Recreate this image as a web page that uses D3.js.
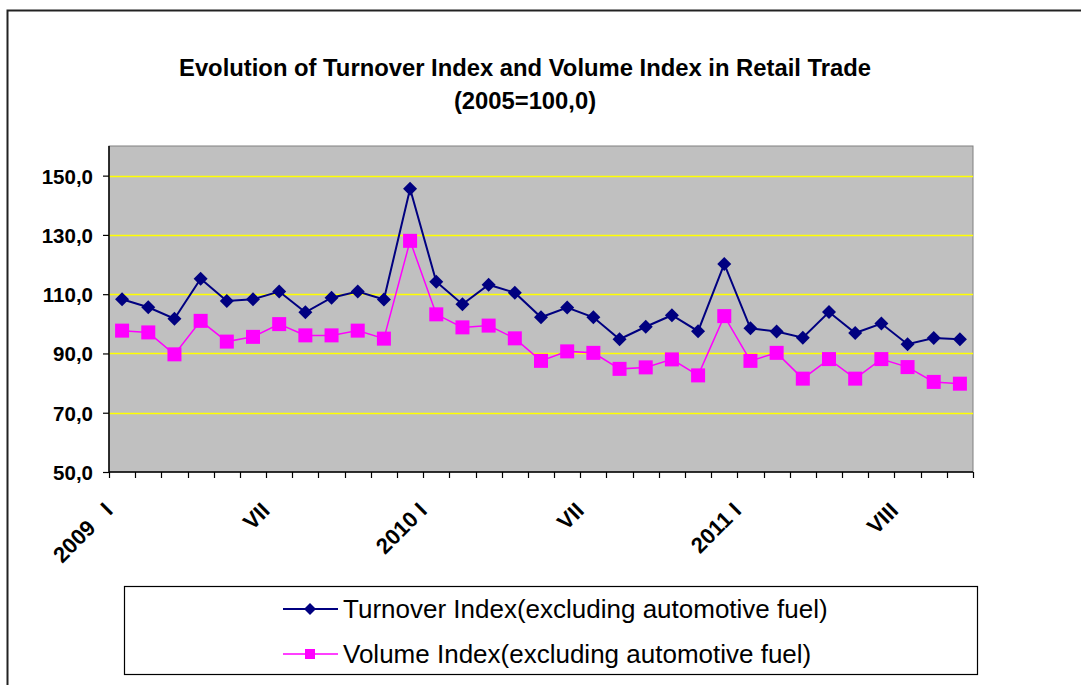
<!DOCTYPE html>
<html>
<head>
<meta charset="utf-8">
<script src="https://cdn.jsdelivr.net/npm/d3@7"></script>
<style>
  html, body { margin: 0; padding: 0; background: #fff; }
  svg { display: block; }
  text { font-family: "Liberation Sans", Arial, sans-serif; }
</style>
</head>
<body>
<svg id="chart" width="1081" height="685"></svg>
<script>
// ---- data ----
const categoryIndex = d3.range(33); // 2009 I ... 2011 IX (monthly)
const tickLabels = ["2009   I", "VII", "2010 I", "VII", "2011 I", "VIII"];
const tickLabelPositions = [0, 6, 12, 18, 24, 30];
const turnover = [108.3, 105.6, 101.7, 115.2, 107.7, 108.3, 110.9, 103.9, 108.8, 110.9, 108.2, 145.6,
                  114.2, 106.6, 113.2, 110.5, 102.2, 105.5, 102.2, 94.8, 99.0, 102.9, 97.5, 120.2,
                  98.5, 97.4, 95.3, 104.0, 96.9, 100.1, 93.1, 95.2, 94.8];
const volume   = [97.7, 97.1, 89.7, 101.0, 94.0, 95.6, 99.9, 96.1, 96.1, 97.7, 95.0, 128.0,
                  103.2, 98.8, 99.4, 95.1, 87.5, 90.7, 90.2, 84.8, 85.3, 88.0, 82.6, 102.6,
                  87.5, 90.2, 81.5, 88.1, 81.5, 88.1, 85.4, 80.4, 79.8];
const yTicks = [50, 70, 90, 110, 130, 150];
const seriesNames = ["Turnover Index(excluding automotive fuel)", "Volume Index(excluding automotive fuel)"];
const titleLines = ["Evolution of Turnover Index and Volume Index in Retail Trade", "(2005=100,0)"];

// ---- layout ----
const svg = d3.select("#chart");
const plot = { left: 109, right: 973, top: 146, bottom: 472 };

svg.append("rect").attr("width", 1081).attr("height", 685).attr("fill", "#fff");
// outer chart frame
svg.append("path").attr("d", "M7.5,685 L7.5,10.5 L1081,10.5")
  .attr("fill", "none").attr("stroke", "#222").attr("stroke-width", 2);

// title
svg.selectAll("text.title").data(titleLines).join("text")
  .attr("class", "title")
  .attr("x", 525).attr("y", (d, i) => 76 + i * 33)
  .attr("text-anchor", "middle")
  .attr("font-weight", "bold").attr("font-size", 23.8)
  .text(d => d);

const x = d3.scaleBand().domain(categoryIndex).range([plot.left, plot.right]).padding(0);
const y = d3.scaleLinear().domain([50, 160]).range([plot.bottom, plot.top]);
const cx = i => x(i) + x.bandwidth() / 2;

// plot background
svg.append("rect")
  .attr("x", plot.left).attr("y", plot.top)
  .attr("width", plot.right - plot.left).attr("height", plot.bottom - plot.top)
  .attr("fill", "#C0C0C0").attr("stroke", "#808080").attr("stroke-width", 1);

// gridlines
svg.append("g").selectAll("line").data(yTicks.filter(v => v > 50)).join("line")
  .attr("x1", plot.left).attr("x2", plot.right)
  .attr("y1", d => Math.round(y(d)) + 0.5).attr("y2", d => Math.round(y(d)) + 0.5)
  .attr("stroke", "#FFFF00").attr("stroke-width", 1.5);

// y axis
const yAxis = d3.axisLeft(y).tickValues(yTicks).tickSize(6).tickPadding(10)
  .tickFormat(d => d3.format(".1f")(d).replace(".", ","));
const gy = svg.append("g").attr("transform", `translate(${plot.left},0)`).call(yAxis);
gy.select(".domain").attr("stroke", "#000").attr("stroke-width", 1.5)
  .attr("d", `M-0,${plot.top}V${plot.bottom}`);
gy.selectAll(".tick line").attr("stroke", "#000").attr("stroke-width", 1.2);
gy.selectAll(".tick text").attr("font-family", "'Liberation Sans', Arial, sans-serif")
  .attr("font-size", 20.5).attr("font-weight", "bold").attr("fill", "#000").attr("dy", "0.36em");

// x axis: ticks at category boundaries
const gx = svg.append("g");
gx.append("line").attr("x1", plot.left).attr("x2", plot.right)
  .attr("y1", plot.bottom).attr("y2", plot.bottom)
  .attr("stroke", "#000").attr("stroke-width", 1.5);
const boundaries = categoryIndex.map(i => x(i)).concat([plot.right]);
gx.selectAll("line.tk").data(boundaries).join("line").attr("class", "tk")
  .attr("x1", d => Math.round(d) + 0.5).attr("x2", d => Math.round(d) + 0.5)
  .attr("y1", plot.bottom).attr("y2", plot.bottom + 6)
  .attr("stroke", "#000").attr("stroke-width", 1.2);
gx.selectAll("text").data(tickLabels).join("text")
  .attr("transform", (d, i) => `translate(${cx(tickLabelPositions[i]) - 8},512) rotate(-45)`)
  .attr("text-anchor", "end")
  .attr("font-size", 22).attr("font-weight", "bold")
  .text(d => d.replace(/ /g, "\u00A0"));

// series lines
const line = d3.line().x((d, i) => cx(i)).y(d => y(d));
svg.append("path").datum(volume).attr("d", line)
  .attr("fill", "none").attr("stroke", "#FF00FF").attr("stroke-width", 1.5);
svg.append("path").datum(turnover).attr("d", line)
  .attr("fill", "none").attr("stroke", "#000080").attr("stroke-width", 2);

// markers
const diamond = (s) => `M0,${-s}L${s},0L0,${s}L${-s},0Z`;
svg.append("g").selectAll("rect").data(volume).join("rect")
  .attr("x", (d, i) => cx(i) - 7).attr("y", d => y(d) - 7)
  .attr("width", 14).attr("height", 14).attr("fill", "#FF00FF");
svg.append("g").selectAll("path").data(turnover).join("path")
  .attr("transform", (d, i) => `translate(${cx(i)},${y(d)})`)
  .attr("d", diamond(7)).attr("fill", "#000080");

// legend
const lg = svg.append("g");
lg.append("rect").attr("x", 124.5).attr("y", 586.5).attr("width", 853).attr("height", 88)
  .attr("fill", "#fff").attr("stroke", "#000").attr("stroke-width", 1.2);
const legendColors = ["#000080", "#FF00FF"];
seriesNames.forEach((name, i) => {
  const yy = 609 + i * 45;
  lg.append("line").attr("x1", 283).attr("x2", 338).attr("y1", yy).attr("y2", yy)
    .attr("stroke", legendColors[i]).attr("stroke-width", i === 0 ? 2 : 1.5);
  if (i === 0) {
    lg.append("path").attr("transform", `translate(310,${yy})`).attr("d", diamond(6)).attr("fill", legendColors[i]);
  } else {
    lg.append("rect").attr("x", 305).attr("y", yy - 5).attr("width", 10).attr("height", 10).attr("fill", legendColors[i]);
  }
  lg.append("text").attr("x", 343).attr("y", yy + 9).attr("font-size", 26).attr("fill", "#000").text(name);
});
</script>
</body>
</html>
